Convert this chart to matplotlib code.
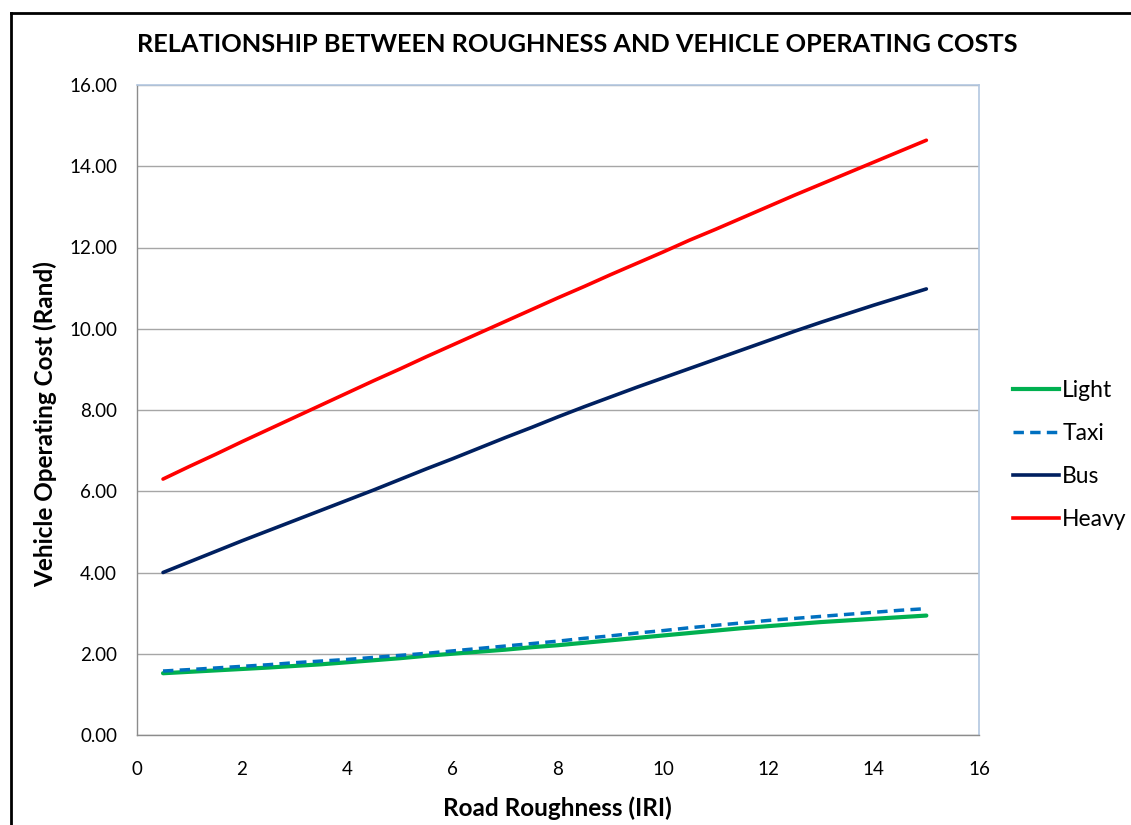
import matplotlib
matplotlib.use("Agg")
import matplotlib.pyplot as plt
from matplotlib.lines import Line2D

iri = [0.5, 1.0, 1.5, 2.0, 2.5, 3.0, 3.5, 4.0, 4.5, 5.0, 5.5, 6.0, 6.5, 7.0, 7.5,
       8.0, 8.5, 9.0, 9.5, 10.0, 10.5, 11.0, 11.5, 12.0, 12.5, 13.0, 13.5, 14.0, 14.5, 15.0]
light = [1.52, 1.555, 1.59, 1.625, 1.66, 1.70, 1.74, 1.79, 1.84, 1.89, 1.95, 2.00, 2.05, 2.10, 2.16,
         2.21, 2.27, 2.33, 2.39, 2.45, 2.51, 2.57, 2.63, 2.68, 2.73, 2.78, 2.82, 2.86, 2.90, 2.94]
taxi = [1.575, 1.61, 1.65, 1.69, 1.73, 1.78, 1.82, 1.86, 1.91, 1.96, 2.01, 2.07, 2.13, 2.19, 2.25,
        2.31, 2.38, 2.44, 2.51, 2.57, 2.64, 2.70, 2.76, 2.82, 2.87, 2.92, 2.97, 3.02, 3.07, 3.11]
bus = [4.00, 4.26, 4.52, 4.78, 5.03, 5.28, 5.53, 5.78, 6.03, 6.29, 6.55, 6.80, 7.06, 7.32, 7.57,
       7.83, 8.08, 8.32, 8.56, 8.79, 9.02, 9.25, 9.48, 9.71, 9.94, 10.16, 10.37, 10.58, 10.78, 10.98]
heavy = [6.30, 6.61, 6.91, 7.22, 7.52, 7.82, 8.12, 8.42, 8.72, 9.01, 9.31, 9.60, 9.89, 10.18, 10.47,
         10.76, 11.04, 11.33, 11.61, 11.89, 12.18, 12.45, 12.73, 13.01, 13.29, 13.56, 13.83, 14.10, 14.37, 14.64]

series_names = ["Light", "Taxi", "Bus", "Heavy"]
x_ticks = [0, 2, 4, 6, 8, 10, 12, 14, 16]
y_ticks = [0, 2, 4, 6, 8, 10, 12, 14, 16]

title = "RELATIONSHIP BETWEEN ROUGHNESS AND VEHICLE OPERATING COSTS"
xlabel = "Road Roughness (IRI)"
ylabel = "Vehicle Operating Cost (Rand)"

plt.rcParams['font.family'] = ['Lato', 'DejaVu Sans']

W, H = 1131, 825
fig = plt.figure(figsize=(W / 100, H / 100), dpi=100)
ax = fig.add_axes([136.7 / W, 1 - 735 / H, (979 - 136.7) / W, (735 - 85) / H])

styles = [
    dict(color="#00B050", lw=3.0, ls="-"),
    dict(color="#0070C0", lw=2.5, ls=(0, (3, 1.8))),
    dict(color="#002060", lw=2.6, ls="-"),
    dict(color="#FF0000", lw=2.6, ls="-"),
]
for data, name, st in zip([light, taxi, bus, heavy], series_names, styles):
    ax.plot(iri, data, label=name, solid_capstyle="round", dash_capstyle="butt", **st)

ax.set_xlim(0, 16)
ax.set_ylim(0, 16)
ax.set_xticks(x_ticks)
ax.set_xticklabels([str(t) for t in x_ticks])
ax.set_yticks(y_ticks)
ax.set_yticklabels([f"{t:.2f}" for t in y_ticks])
ax.tick_params(axis="both", length=0, labelsize=13.5, colors="#000000")
ax.tick_params(axis="x", pad=19)
ax.tick_params(axis="y", pad=14)
ax.yaxis.grid(True, color="#A6A6A6", lw=1.0)
ax.set_axisbelow(True)
for s in ["left", "bottom"]:
    ax.spines[s].set_color("#8C8C8C")
    ax.spines[s].set_linewidth(1.0)
for s in ["top", "right"]:
    ax.spines[s].set_color("#B3C7E0")
    ax.spines[s].set_linewidth(1.2)

fig.text(577 / W, 1 - 45 / H, title, ha="center", va="center", fontsize=18.3, fontweight="bold")
fig.text(45 / W, 1 - 424 / H, ylabel, ha="center", va="center", rotation=90, fontsize=17.5, fontweight="bold")
fig.text(557 / W, 1 - 808 / H, xlabel, ha="center", va="center", fontsize=17.5, fontweight="bold")

handles = [Line2D([0], [0], **st) for st in styles]
leg = fig.legend(handles, series_names, loc="center left", bbox_to_anchor=(1013 / W, 1 - 455 / H),
                 frameon=False, fontsize=16.5, handlelength=2.0, handletextpad=0.15,
                 labelspacing=0.95, borderaxespad=0, borderpad=0)

# outer chart border (left and top edges visible)
fig.add_artist(Line2D([11 / W, 11 / W], [0, 1 - 13 / H], transform=fig.transFigure, color="black", lw=2))
fig.add_artist(Line2D([11 / W, 1], [1 - 13 / H, 1 - 13 / H], transform=fig.transFigure, color="black", lw=2))

fig.savefig("out.png", dpi=100)
